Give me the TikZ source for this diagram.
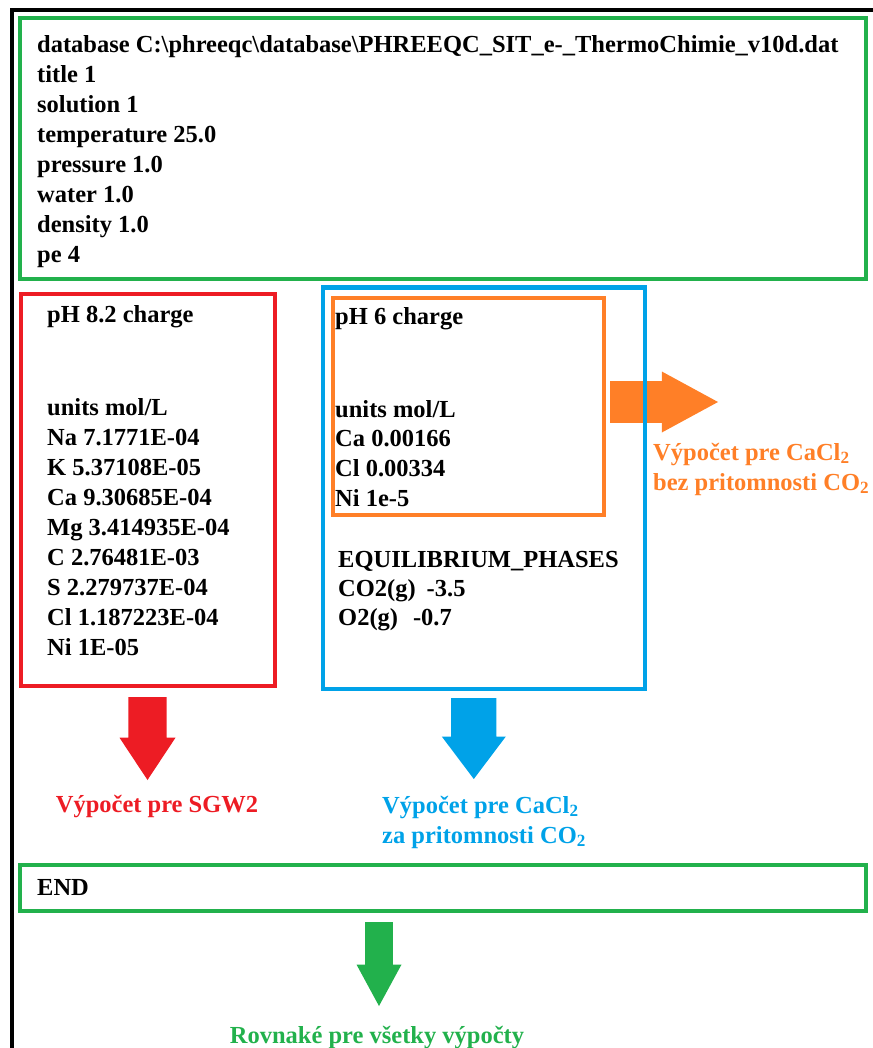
\documentclass[tikz,border=0pt]{standalone}
\usepackage{fontspec}
\setmainfont{Liberation Serif}[BoldFont={Liberation Serif Bold}]
\usetikzlibrary{positioning,shapes.arrows}
\definecolor{boxgreen}{RGB}{34,177,76}
\definecolor{sgwred}{RGB}{237,28,36}
\definecolor{co2blue}{RGB}{0,162,232}
\definecolor{cacl2orange}{RGB}{255,127,39}

\begin{document}
\begin{tikzpicture}[x=1pt, y=-1pt,
  every node/.style={font=\bfseries\fontsize{24.5}{30}\selectfont},
  %% Box styles
  framebox/.style={draw, line width=4pt, inner sep=0pt, outer sep=0pt},
  greenbox/.style={framebox, draw=boxgreen},
  redbox/.style={framebox, draw=sgwred},
  bluebox/.style={framebox, draw=co2blue},
  orangebox/.style={framebox, draw=cacl2orange},
  %% Text styles
  codetext/.style={anchor=base west, inner sep=0pt, text=black},
  note/.style={inner sep=0pt, align=left},
  %% Block arrows
  bigarrow/.style={shape=single arrow, draw=none, inner sep=0pt,
    outer sep=0pt, anchor=tail},
  downarrow/.style={bigarrow, rotate=-90},
]
\useasboundingbox (0,0) rectangle (872,1048);

%% outer black frame (runs off the page right and bottom)
\node[framebox, draw=black, minimum width=988pt, minimum height=1190pt]
    (frame) at (506,605.5) {};

%% =============================================================
%%  INPUT HEADER
%% =============================================================
\node[greenbox, minimum width=846pt, minimum height=261pt]
    (setup) at (442.6,148.2) {};
\foreach \codeline [count=\i from 0] in {%
    {database C:\textbackslash phreeqc\textbackslash database\textbackslash PHREEQC\_SIT\_e-\_ThermoChimie\_v10d.dat},
    title 1, solution 1, temperature 25.0, pressure 1.0,
    water 1.0, density 1.0, pe 4}
  \node[codetext] (setup\i) at (37,53+30*\i) {\codeline};

%% =============================================================
%%  SOLUTION SGW2  (red)
%% =============================================================
\node[redbox, minimum width=253.5pt, minimum height=392pt]
    (sgw) at (147.75,490) {};
\node[codetext] (sgwph) at (47,322) {pH 8.2 charge};
\foreach \codeline [count=\i from 0] in {units mol/L, Na 7.1771E-04,
    K 5.37108E-05, Ca 9.30685E-04, Mg 3.414935E-04, C 2.76481E-03,
    S 2.279737E-04, Cl 1.187223E-04, Ni 1E-05}
  \node[codetext] (sgw\i) at (47,415+30*\i) {\codeline};

%% =============================================================
%%  SOLUTION CaCl2  (orange inside blue)
%% =============================================================
\node[fill=cacl2orange, bigarrow, minimum height=108pt,
    minimum width=61pt, inner ysep=15pt, single arrow tip angle=57]
    (arrbez) at (610,402) {};

\node[bluebox, minimum width=322.5pt, minimum height=401.5pt]
    (co2) at (483.75,488.25) {};
\node[orangebox, minimum width=271.5pt, minimum height=217.5pt]
    (cacl) at (468.25,406.25) {};
\node[codetext] (caclph) at (335,324) {pH 6 charge};
\foreach \codeline [count=\i from 0] in {units mol/L, Ca 0.00166,
    Cl 0.00334, Ni 1e-5}
  \node[codetext] (cacl\i) at (335,417+29.7*\i) {\codeline};
\foreach \codeline [count=\i from 0] in {EQUILIBRIUM\_PHASES,
    {CO2(g)\hspace{11pt}-3.5}, {O2(g)\hspace{15pt}-0.7}}
  \node[codetext] (co2\i) at (338,567+29*\i) {\codeline};

%% label: base anchor sits on the last line
\node[note, text=cacl2orange, anchor=base west] (bez) at (653,490)
    {V\'ypo\v{c}et pre CaCl\textsubscript{2}\\bez pritomnosti CO\textsubscript{2}};

%% =============================================================
%%  Arrows and labels under the solutions
%% =============================================================
\node[fill=sgwred, downarrow, minimum height=83pt, minimum width=56pt,
    inner ysep=15pt, single arrow tip angle=67] (arrsgw) at (147.5,697) {};
\node[note, text=sgwred, anchor=base] (sgwlabel) at (157,812)
    {V\'ypo\v{c}et pre SGW2};

\node[fill=co2blue, downarrow, minimum height=81pt, minimum width=64pt,
    inner ysep=17pt, single arrow tip angle=74] (arrza) at (473.8,698) {};
\node[note, text=co2blue, anchor=base west] (za) at (382,843)
    {V\'ypo\v{c}et pre CaCl\textsubscript{2}\\za pritomnosti CO\textsubscript{2}};

%% =============================================================
%%  END
%% =============================================================
\node[greenbox, minimum width=846pt, minimum height=46pt]
    (finish) at (442.6,888) {};
\node[codetext] (endword) at (37,895) {END};

\node[fill=boxgreen, downarrow, minimum height=84pt, minimum width=45pt,
    inner ysep=11.5pt, single arrow tip angle=57] (arrall) at (379,922) {};
\node[note, text=boxgreen, anchor=base] (all) at (377,1043)
    {Rovnak\'e pre v\v{s}etky v\'ypo\v{c}ty};

\end{tikzpicture}
\end{document}
